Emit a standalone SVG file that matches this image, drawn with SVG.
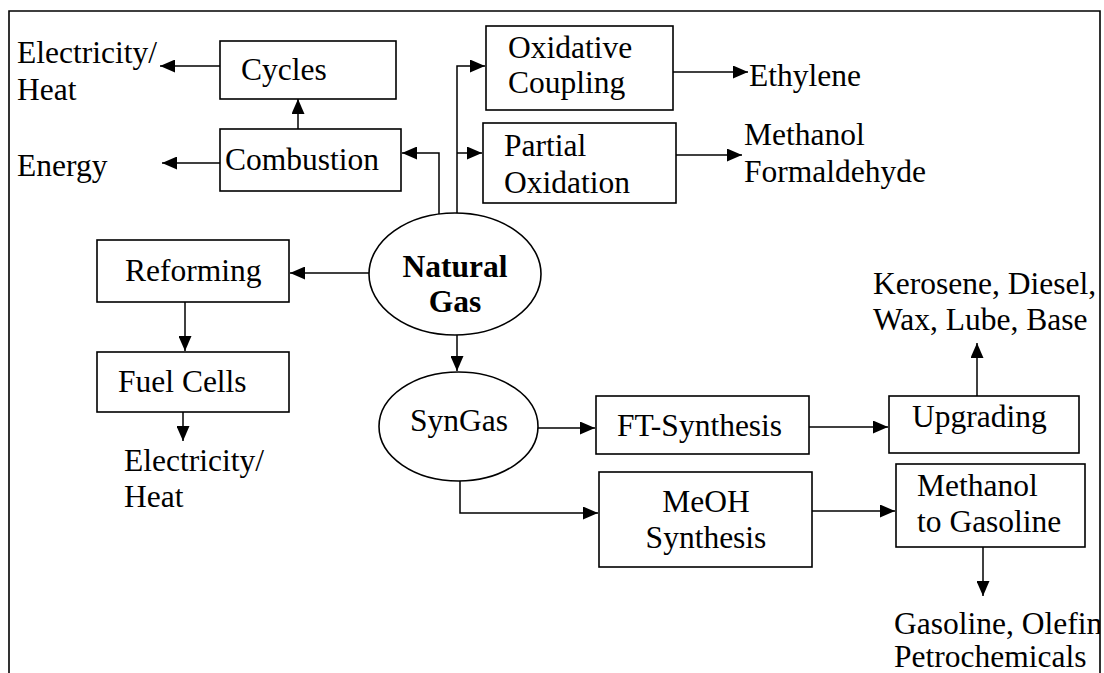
<svg xmlns="http://www.w3.org/2000/svg" width="1104" height="673" viewBox="0 0 1104 673">
<style>
text{font-family:"Liberation Serif","Times New Roman",Times,"DejaVu Serif",serif;font-size:31.5px;fill:#000}
.b{font-weight:bold}
.box{fill:#fff;stroke:#000;stroke-width:1.6}
.c{fill:none;stroke:#000;stroke-width:1.5}
.frame{fill:none;stroke:#000;stroke-width:1.6}
</style>
<defs>
<marker id="ah" markerWidth="15" markerHeight="13" refX="15" refY="6.5" orient="auto" markerUnits="userSpaceOnUse"><path d="M0,0 L15,6.5 L0,13 z" fill="#000"/></marker>
<clipPath id="clipR"><rect x="0" y="0" width="1100" height="673"/></clipPath>
</defs>
<rect width="1104" height="673" fill="#fff"/>
<g id="connectors">
<path class="c" d="M220,66 L160,66" marker-end="url(#ah)"/>
<path class="c" d="M220,163 L162,163" marker-end="url(#ah)"/>
<path class="c" d="M298,129 L298,99" marker-end="url(#ah)"/>
<path class="c" d="M439,214 L439,153 L402,153" marker-end="url(#ah)"/>
<path class="c" d="M457,213 L457,66 L485,66" marker-end="url(#ah)"/>
<path class="c" d="M457,153 L482,153" marker-end="url(#ah)"/>
<path class="c" d="M673,72 L748,72" marker-end="url(#ah)"/>
<path class="c" d="M676,155 L742,155" marker-end="url(#ah)"/>
<path class="c" d="M369,273 L290,273" marker-end="url(#ah)"/>
<path class="c" d="M185,302 L185,351" marker-end="url(#ah)"/>
<path class="c" d="M183,412 L183,441" marker-end="url(#ah)"/>
<path class="c" d="M457,335 L457,371" marker-end="url(#ah)"/>
<path class="c" d="M538,428 L595,428" marker-end="url(#ah)"/>
<path class="c" d="M460,481 L460,513 L598,513" marker-end="url(#ah)"/>
<path class="c" d="M809,427 L888,427" marker-end="url(#ah)"/>
<path class="c" d="M977,396 L977,343" marker-end="url(#ah)"/>
<path class="c" d="M812,511 L895,511" marker-end="url(#ah)"/>
<path class="c" d="M983,547 L983,596" marker-end="url(#ah)"/>
</g>
<g id="cycles"><rect class="box" x="220" y="41" width="176" height="58"/><text x="241" y="80">Cycles</text></g>
<g id="combustion"><rect class="box" x="220" y="129" width="181" height="62"/><text x="225" y="170">Combustion</text></g>
<g id="elec-heat-top"><text x="17" y="63">Electricity/</text><text x="17" y="100">Heat</text></g>
<g id="energy"><text x="17" y="176">Energy</text></g>
<g id="oxidative-coupling"><rect class="box" x="486" y="26" width="187" height="84"/><text x="508" y="58">Oxidative</text><text x="508" y="93">Coupling</text></g>
<g id="ethylene"><text x="749" y="86">Ethylene</text></g>
<g id="partial-oxidation"><rect class="box" x="483" y="123" width="193" height="80"/><text x="504" y="156">Partial</text><text x="504" y="193">Oxidation</text></g>
<g id="methanol-formaldehyde"><text x="744" y="145">Methanol</text><text x="744" y="182">Formaldehyde</text></g>
<g id="natural-gas"><ellipse class="box" cx="455" cy="274" rx="86" ry="61"/><text class="b" x="455" y="277" text-anchor="middle">Natural</text><text class="b" x="455" y="312" text-anchor="middle">Gas</text></g>
<g id="reforming"><rect class="box" x="97" y="240" width="192" height="62"/><text x="125" y="281">Reforming</text></g>
<g id="fuel-cells"><rect class="box" x="97" y="352" width="192" height="60"/><text x="118" y="392">Fuel Cells</text></g>
<g id="elec-heat-bottom"><text x="124" y="471">Electricity/</text><text x="124" y="507">Heat</text></g>
<g id="syngas"><ellipse class="box" cx="458.5" cy="426.5" rx="79.5" ry="54.5"/><text x="459" y="431" text-anchor="middle">SynGas</text></g>
<g id="ft-synthesis"><rect class="box" x="596" y="396" width="213" height="58"/><text x="617" y="436">FT-Synthesis</text></g>
<g id="upgrading"><rect class="box" x="889" y="396" width="190" height="57"/><text x="912" y="427">Upgrading</text></g>
<g id="kerosene"><text x="873" y="294">Kerosene, Diesel,</text><text x="873" y="330">Wax, Lube, Base</text></g>
<g id="meoh-synthesis"><rect class="box" x="599" y="472" width="213" height="95"/><text x="706" y="512" text-anchor="middle">MeOH</text><text x="706" y="548" text-anchor="middle">Synthesis</text></g>
<g id="mtg"><rect class="box" x="896" y="464" width="189" height="83"/><text x="917" y="496">Methanol</text><text x="917" y="532">to Gasoline</text></g>
<g id="gasoline" clip-path="url(#clipR)"><text x="894" y="634">Gasoline, Olefin</text><text x="894" y="667">Petrochemicals</text></g>
<path class="frame" d="M9,673 L9,11 L1100,11 L1100,673"/>
</svg>
